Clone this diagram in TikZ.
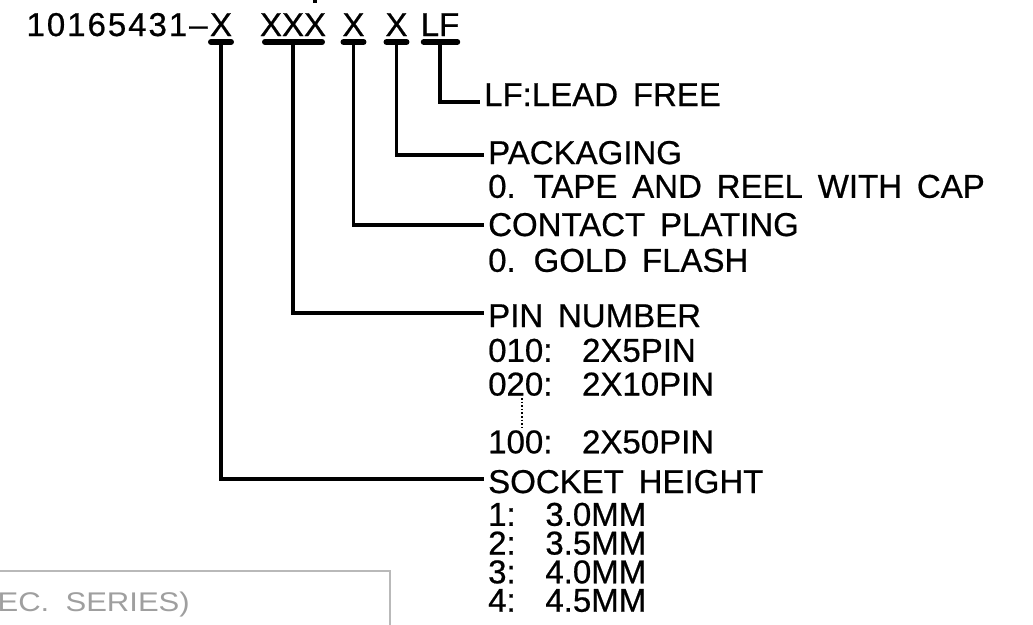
\documentclass[tikz,border=0pt]{standalone}
\usepackage{fontspec}
\setmainfont{Liberation Sans}[FakeBold=0.6]
\newfontfamily\grayfamily{Liberation Sans}[FakeStretch=1.15]
\usetikzlibrary{positioning,calc}
\newcommand{\partfont}{\fontsize{33}{33}\selectfont\spaceskip=0.45em\relax}
\newcommand{\seriesfont}{\grayfamily\fontsize{27}{27}\selectfont\spaceskip=0.6em\relax}
\tikzset{
	code/.style={font=\partfont, inner sep=0pt, anchor=base},
	field/.style={font=\partfont, inner xsep=4pt, inner ysep=0pt, anchor=base west},
	choice/.style={font=\partfont, inner xsep=4pt, inner ysep=0pt},
	uline/.style={line width=5.5pt, line cap=round},
	stem/.style={line width=3.8pt}
}
\begin{document}
\begin{tikzpicture}[x=1pt, y=-1pt]
	\useasboundingbox (0,0) rectangle (1033,624);
	
	%% -- part number, one node per field
	\node[code] (xa) at (221,36) {X};
	\node[code, anchor=base east, font=\partfont\addfontfeature{LetterSpace=6}] (prefix)
	at ($(xa.base west)+(-2,0)$) {10165431--};
	\node[code] (xb) at (293,36) {XXX};
	\node[code] (xc) at (353.5,36) {X};
	\node[code] (xd) at (396.5,36) {X};
	\node[code] (xe) at (440,36) {LF};
	
	%% -- bars under the fields
	\draw[uline] ($(xa.base west)+(1,6)$) -- ($(xa.base east)+(-1,6)$);
	\draw[uline] ($(xb.base west)+(5,6)$) -- ($(xb.base east)+(-4,6)$);
	\draw[uline] ($(xc.base west)+(1,6)$) -- ($(xc.base east)+(-1,6)$);
	\draw[uline] ($(xd.base west)+(1,6)$) -- ($(xd.base east)+(-1,6)$);
	\draw[uline] ($(xe.base west)+(3,6)$) -- ($(xe.base east)+(-2,6)$);
	\coordinate (ua) at ($(xa.base)+(0,6)$);
	\coordinate (ub) at ($(xb.base)+(0,6)$);
	\coordinate (uc) at ($(xc.base)+(0,6)$);
	\coordinate (ud) at ($(xd.base)+(0,6)$);
	\coordinate (ue) at ($(xe.base)+(0,6)$);
	\draw[stem] (315,0) -- (315,3);
	
	%% -- field headings
	\node[field] (lf) at (480,106) {LF:LEAD FREE};
	\node[field] (pack) at (484,164) {PACKAGING};
	\node[field] (plat) at (484,236) {CONTACT PLATING};
	\node[field] (pin) at (484,327) {PIN NUMBER};
	\node[field] (height) at (484,493) {SOCKET HEIGHT};
	
	%% -- choices under each heading
	\node[choice, below=10pt of pack.south west, anchor=north west] (tape)
	{0. TAPE AND REEL WITH CAP};
	\node[choice, below=12pt of plat.south west, anchor=north west] (gold)
	{0. GOLD FLASH};
	\node[choice, below=11pt of pin.south west, anchor=north west] (p010)
	{010:~~2X5PIN};
	\node[choice, below=10pt of p010.south west, anchor=north west] (p020)
	{020:~~2X10PIN};
	\node[choice, below=34pt of p020.south west, anchor=north west] (p100)
	{100:~~2X50PIN};
	\node[choice, below=9pt of height.south west, anchor=north west] (h1)
	{1:~~3.0MM};
	\node[choice, below=5pt of h1.south west, anchor=north west] (h2)
	{2:~~3.5MM};
	\node[choice, below=5pt of h2.south west, anchor=north west] (h3)
	{3:~~4.0MM};
	\node[choice, below=5pt of h3.south west, anchor=north west] (h4)
	{4:~~4.5MM};
	\draw[dotted, line width=1.6pt] ($(p020.south west)+(38,2)$) -- ($(p100.north west)+(38,-2)$);
	
	%% -- leaders from the fields to the headings
	\draw[stem] (ue) |- ($(lf.base west)+(0,-4)$);
	\draw[stem] (ud) |- ($(pack.base west)+(0,-9)$);
	\draw[stem] (uc) |- ($(plat.base west)+(0,-11)$);
	\draw[stem] (ub) |- ($(pin.base west)+(0,-14)$);
	\draw[stem] (ua) |- ($(height.base west)+(0,-14)$);
	
	%% -- cut off title box, bottom left
	\draw[gray!55, line width=1.2pt] (-10,571) rectangle (390,650);
	\node[font=\seriesfont, text=gray!75, inner sep=0pt, anchor=base east]
	(series) at (190,611) {EC. SERIES)};
\end{tikzpicture}
\end{document}
